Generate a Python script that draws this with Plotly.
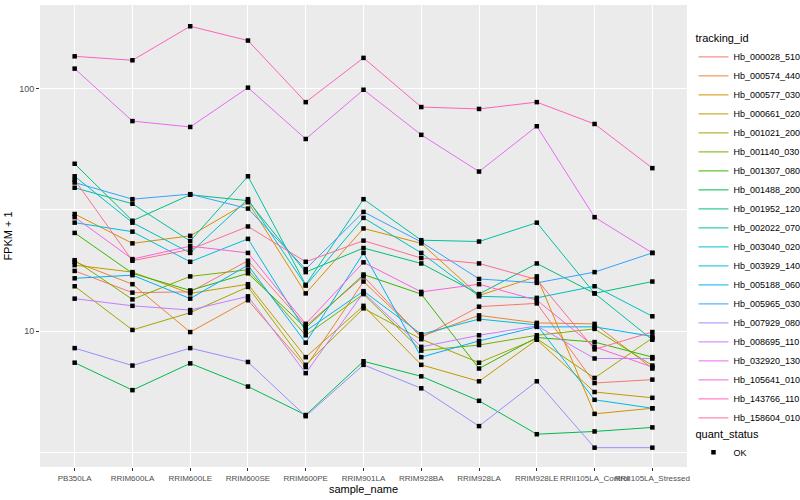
import plotly.graph_objects as go

# ---- data (FPKM + 1) ----
samples = ["PB350LA", "RRIM600LA", "RRIM600LE", "RRIM600SE", "RRIM600PE",
           "RRIM901LA", "RRIM928BA", "RRIM928LA", "RRIM928LE",
           "RRII105LA_Control", "RRII105LA_Stressed"]

tracking_ids = ["Hb_000028_510", "Hb_000574_440", "Hb_000577_030", "Hb_000661_020",
                "Hb_001021_200", "Hb_001140_030", "Hb_001307_080", "Hb_001488_200",
                "Hb_001952_120", "Hb_002022_070", "Hb_003040_020", "Hb_003929_140",
                "Hb_005188_060", "Hb_005965_030", "Hb_007929_080", "Hb_008695_110",
                "Hb_032920_130", "Hb_105641_010", "Hb_143766_110", "Hb_158604_010"]

hb_000028_510 = [17.7, 14.4, 14.5, 19.5, 10.5, 16.8, 9.4, 12.6, 13.0, 6.1, 6.3]
hb_000574_440 = [19.3, 15.6, 9.9, 13.4, 7.1, 16.0, 9.5, 11.6, 10.8, 10.7, 7.0]
hb_000577_030 = [30.4, 23.0, 24.7, 34.0, 14.3, 26.5, 23.0, 14.0, 16.8, 4.55, 4.8]
hb_000661_020 = [18.7, 17.5, 14.3, 15.6, 7.8, 12.7, 7.25, 6.2, 9.2, 5.6, 5.3]
hb_001021_200 = [15.3, 10.1, 11.9, 15.2, 7.25, 12.4, 9.25, 7.4, 9.3, 6.4, 9.35]
hb_001140_030 = [19.6, 13.5, 16.8, 17.9, 9.6, 14.2, 8.3, 8.75, 9.6, 10.2, 7.2]
hb_001307_080 = [25.4, 17.3, 14.7, 17.3, 10.3, 17.1, 14.2, 7.0, 9.4, 9.0, 7.8]
hb_001488_200 = [7.4, 5.7, 7.35, 5.9, 4.5, 7.5, 6.5, 5.15, 3.75, 3.85, 4.0]
hb_001952_120 = [49.0, 28.5, 36.5, 34.5, 17.5, 22.0, 19.0, 14.2, 19.0, 14.3, 16.0]
hb_002022_070 = [39.0, 33.5, 23.5, 43.5, 15.5, 35.0, 23.7, 23.4, 28.0, 14.3, 9.2]
hb_003040_020 = [43.5, 28.0, 21.0, 35.0, 15.4, 29.3, 21.0, 13.9, 13.7, 15.3, 11.5]
hb_003929_140 = [28.0, 25.7, 19.3, 24.0, 10.0, 14.6, 9.7, 11.2, 10.6, 5.2, 4.8]
hb_005188_060 = [16.5, 17.0, 13.6, 18.7, 8.95, 21.0, 7.8, 9.1, 10.4, 10.4, 9.5]
hb_005965_030 = [41.0, 35.0, 36.7, 32.0, 18.0, 31.0, 23.3, 16.4, 15.8, 17.5, 21.0]
hb_007929_080 = [8.5, 7.2, 8.5, 7.45, 4.45, 7.25, 5.8, 4.05, 6.2, 3.3, 3.3]
hb_008695_110 = [13.6, 12.7, 12.2, 13.9, 6.7, 14.4, 8.6, 9.6, 10.5, 7.7, 7.7]
hb_032920_130 = [121.0, 73.5, 69.5, 101.0, 62.0, 99.0, 64.5, 45.5, 70.0, 29.5, 21.0]
hb_105641_010 = [29.5, 19.8, 22.4, 21.0, 10.7, 19.2, 14.5, 15.6, 13.4, 8.6, 7.1]
hb_143766_110 = [136.0, 131.0, 181.0, 158.0, 88.0, 134.0, 84.0, 82.5, 88.0, 71.5, 47.0]
hb_158604_010 = [42.0, 19.5, 21.7, 27.0, 19.3, 23.6, 20.0, 19.0, 16.3, 8.4, 9.9]

series = [hb_000028_510, hb_000574_440, hb_000577_030, hb_000661_020, hb_001021_200,
          hb_001140_030, hb_001307_080, hb_001488_200, hb_001952_120, hb_002022_070,
          hb_003040_020, hb_003929_140, hb_005188_060, hb_005965_030, hb_007929_080,
          hb_008695_110, hb_032920_130, hb_105641_010, hb_143766_110, hb_158604_010]

quant_status = "OK"

# ---- styles ----
colors = ["#F8766D", "#EA8331", "#D89000", "#C09B00", "#A3A500", "#7CAE00", "#39B600",
          "#00BB4E", "#00BF7D", "#00C1A3", "#00BFC4", "#00BAE0", "#00B0F6", "#35A2FF",
          "#9590FF", "#C77CFF", "#E76BF3", "#FA62DB", "#FF62BC", "#FF6C91"]

FONT = "Liberation Sans, Arial, Helvetica, sans-serif"

fig = go.Figure()
for name, vals, col in zip(tracking_ids, series, colors):
    fig.add_trace(go.Scatter(
        x=samples, y=vals, mode="lines", name=name,
        line=dict(color=col, width=1), legend="legend"))

all_x = [s for _ in series for s in samples]
all_y = [v for vals in series for v in vals]
fig.add_trace(go.Scatter(
    x=all_x, y=all_y, mode="markers", name=quant_status,
    marker=dict(symbol="square", size=4.5, color="black"),
    legend="legend2"))

fig.update_layout(
    width=800, height=500,
    margin=dict(l=40, r=113, t=5, b=33, autoexpand=False),
    plot_bgcolor="#EBEBEB", paper_bgcolor="white",
    font=dict(family=FONT, size=9, color="#4D4D4D"),
    showlegend=True,
    legend=dict(
        title=dict(text="tracking_id", font=dict(family=FONT, size=11, color="black")),
        font=dict(family=FONT, size=9, color="black"),
        x=1.01, xanchor="left", y=0.95, yanchor="top",
        itemwidth=30, bgcolor="rgba(255,255,255,0)", tracegroupgap=0),
    legend2=dict(
        title=dict(text="quant_status", font=dict(family=FONT, size=11, color="black")),
        font=dict(family=FONT, size=9, color="black"),
        x=1.01, xanchor="left", y=0.094, yanchor="top",
        itemwidth=30, bgcolor="rgba(255,255,255,0)"),
)

fig.update_xaxes(
    type="category", categoryorder="array", categoryarray=samples,
    range=[-0.6, 10.6], showgrid=True, gridcolor="white", gridwidth=1,
    ticks="outside", ticklen=3, tickcolor="#333333", tickangle=0,
    tickfont=dict(family=FONT, size=8, color="#4D4D4D"),
    title=dict(text="sample_name", font=dict(family=FONT, size=11, color="black"), standoff=2),
    zeroline=False, showline=False, automargin=False)

fig.update_yaxes(
    type="log", range=[0.4387, 2.3454],
    tickvals=[10, 100], ticktext=["10", "100"],
    showgrid=True, gridcolor="white", gridwidth=1,
    minor=dict(tickvals=[3.1623, 31.623], showgrid=True, gridcolor="white", gridwidth=0.5, ticks=""),
    ticks="outside", ticklen=3, tickcolor="#333333",
    tickfont=dict(family=FONT, size=9, color="#4D4D4D"),
    title=dict(text="FPKM + 1", font=dict(family=FONT, size=11, color="black"), standoff=4),
    zeroline=False, showline=False, automargin=False)

fig.write_html("out.html",
               config={"displayModeBar": False},
               post_script="document.body.style.margin='0';document.body.style.overflow='hidden';")
